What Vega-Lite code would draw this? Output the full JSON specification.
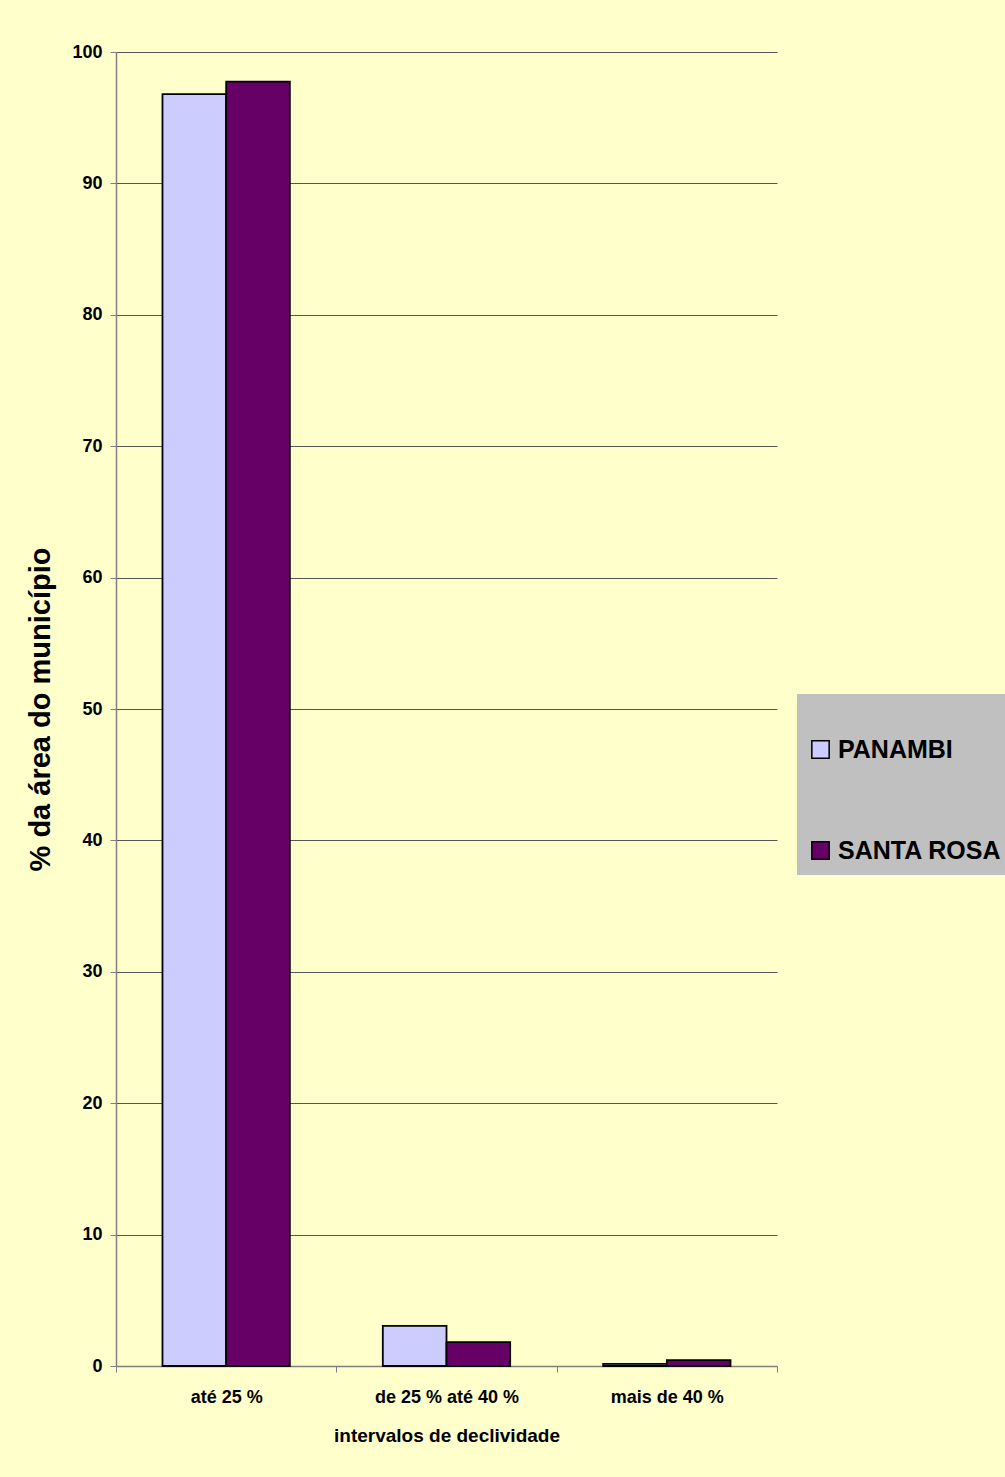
{
  "$schema": "https://vega.github.io/schema/vega-lite/v6.json",
  "autosize": {"type": "none"},
  "width": 661,
  "height": 1314,
  "padding": {"left": 116, "top": 52, "right": 228, "bottom": 111},
  "background": "#FFFFCC",
  "config": {
    "view": {"stroke": null},
    "font": "Liberation Sans"
  },
  "data": {
    "values": [
      {"intervalo": "até 25 %", "municipio": "PANAMBI", "valor": 96.8},
      {"intervalo": "até 25 %", "municipio": "SANTA ROSA", "valor": 97.75},
      {"intervalo": "de 25 % até 40 %", "municipio": "PANAMBI", "valor": 3.05},
      {"intervalo": "de 25 % até 40 %", "municipio": "SANTA ROSA", "valor": 1.82},
      {"intervalo": "mais de 40 %", "municipio": "PANAMBI", "valor": 0.16},
      {"intervalo": "mais de 40 %", "municipio": "SANTA ROSA", "valor": 0.45}
    ]
  },
  "mark": {"type": "bar", "stroke": "#000000", "strokeWidth": 1.8},
  "encoding": {
    "x": {
      "field": "intervalo",
      "type": "nominal",
      "sort": ["até 25 %", "de 25 % até 40 %", "mais de 40 %"],
      "scale": {"paddingInner": 0, "paddingOuter": 0},
      "axis": {
        "title": "intervalos de declividade",
        "titleFontSize": 19,
        "titleFontWeight": "bold",
        "titleColor": "#000000",
        "titlePadding": 20,
        "labelAngle": 0,
        "labelFontSize": 18,
        "labelFontWeight": "bold",
        "labelColor": "#000000",
        "labelPadding": 16,
        "tickBand": "extent",
        "tickSize": 6,
        "tickColor": "#808080",
        "domainColor": "#808080",
        "domainWidth": 1.5,
        "grid": false
      }
    },
    "xOffset": {
      "field": "municipio",
      "type": "nominal",
      "sort": ["PANAMBI", "SANTA ROSA"],
      "scale": {"paddingInner": 0, "paddingOuter": 0.73}
    },
    "y": {
      "field": "valor",
      "type": "quantitative",
      "scale": {"domain": [0, 100], "nice": false},
      "axis": {
        "title": "% da área do município",
        "titleFontSize": 29,
        "titleFontWeight": "bold",
        "titleColor": "#000000",
        "titlePadding": 16,
        "values": [0, 10, 20, 30, 40, 50, 60, 70, 80, 90, 100],
        "labelFontSize": 18,
        "labelFontWeight": "bold",
        "labelColor": "#000000",
        "labelPadding": 8,
        "tickSize": 6,
        "tickColor": "#808080",
        "domainColor": "#808080",
        "domainWidth": 1.5,
        "grid": true,
        "gridColor": "#555555",
        "gridWidth": 1
      }
    },
    "fill": {
      "field": "municipio",
      "type": "nominal",
      "scale": {"domain": ["PANAMBI", "SANTA ROSA"], "range": ["#CCCCFF", "#660066"]},
      "legend": {
        "orient": "none",
        "legendX": 681,
        "legendY": 642,
        "title": " ",
        "titleFontSize": 24,
        "titlePadding": 8,
        "fillColor": "#C0C0C0",
        "padding": 11,
        "symbolType": "square",
        "symbolSize": 300,
        "symbolStrokeColor": "#000000",
        "symbolStrokeWidth": 1.5,
        "labelFontSize": 25,
        "labelFontWeight": "bold",
        "labelColor": "#000000",
        "labelOffset": 5,
        "labelLimit": 400,
        "rowPadding": 75
      }
    }
  }
}
